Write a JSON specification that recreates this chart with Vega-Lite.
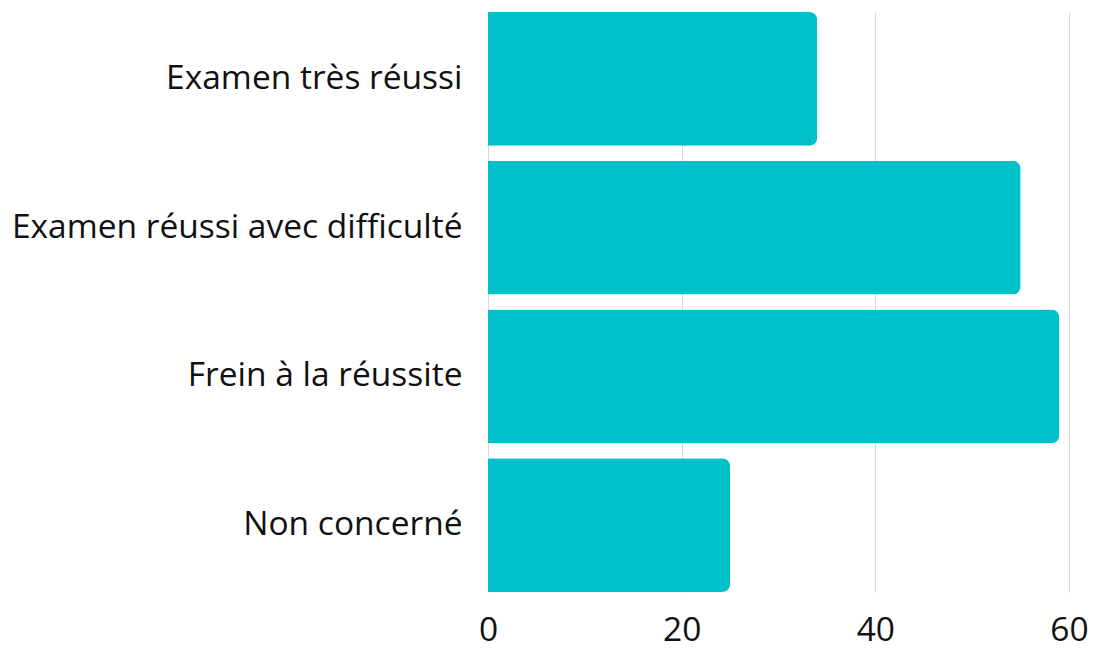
{
  "$schema": "https://vega.github.io/schema/vega-lite/v6.json",
  "width": 581,
  "height": 580,
  "autosize": {"type": "none"},
  "padding": {"left": 488, "top": 12, "right": 25, "bottom": 56},
  "background": "white",
  "data": {"values": [
    {"categorie": "Examen très réussi", "valeur": 34},
    {"categorie": "Examen réussi avec difficulté", "valeur": 55},
    {"categorie": "Frein à la réussite", "valeur": 59},
    {"categorie": "Non concerné", "valeur": 25}
  ]},
  "mark": {"type": "bar", "color": "#00C1C9", "cornerRadiusEnd": 8},
  "encoding": {
    "y": {
      "field": "categorie", "type": "nominal", "sort": null,
      "scale": {"paddingInner": 0.1, "paddingOuter": 0},
      "axis": {"title": null, "ticks": false, "domain": false, "labelFont": "Open Sans", "labelFontSize": 33.5, "labelColor": "#111111", "labelPadding": 26, "labelLimit": 600}
    },
    "x": {
      "field": "valeur", "type": "quantitative",
      "scale": {"domain": [0, 60], "nice": false},
      "axis": {"title": null, "values": [0, 20, 40, 60], "ticks": false, "domain": false, "grid": true, "gridColor": "#d9d9d9", "labelFont": "Open Sans", "labelFontSize": 33.5, "labelColor": "#111111", "labelPadding": 22, "labelFlush": false}
    }
  },
  "config": {"view": {"stroke": null}}
}
